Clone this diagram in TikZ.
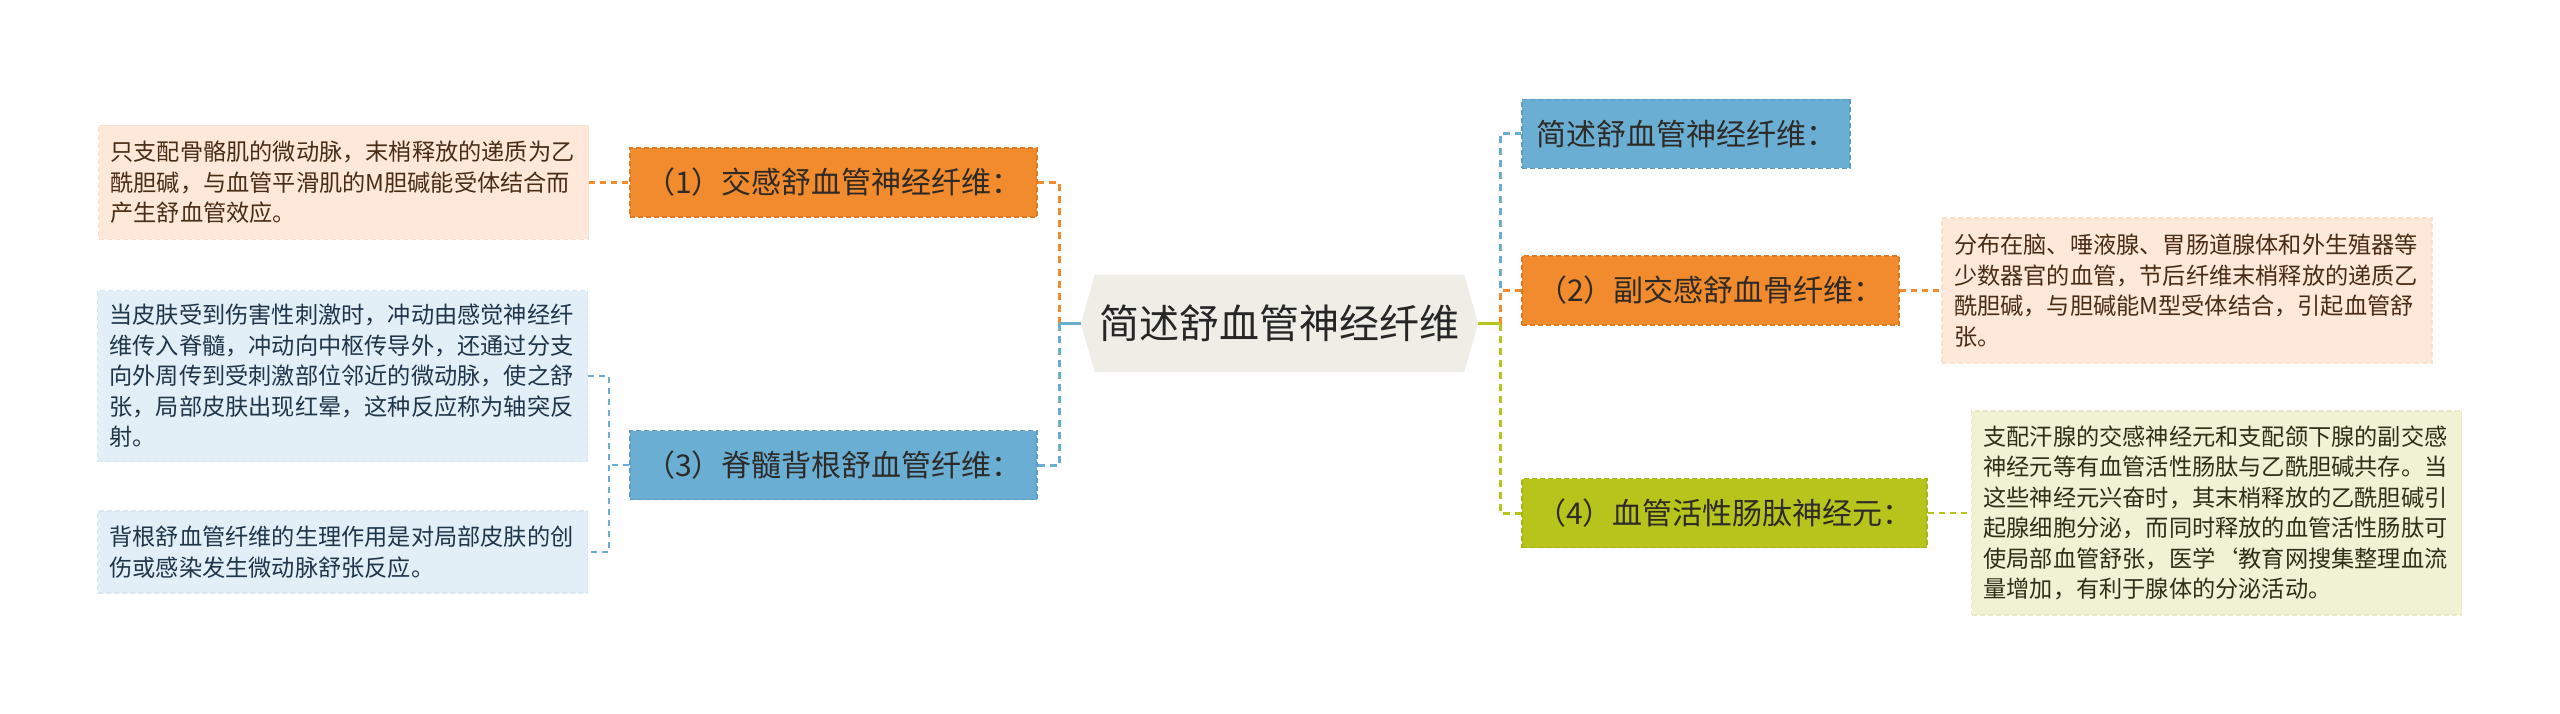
\documentclass[tikz,border=0pt]{standalone}
\usepackage{fontspec}
\setmainfont{Noto Sans CJK SC}
\usetikzlibrary{backgrounds}
\definecolor{org}{HTML}{F18B2D}
\definecolor{orgd}{HTML}{E07A1E}
\definecolor{blu}{HTML}{6AAED4}
\definecolor{blud}{HTML}{5A9CC3}
\definecolor{grn}{HTML}{B7C41C}
\definecolor{grnd}{HTML}{A6B20F}
\definecolor{peach}{HTML}{FDE8D9}
\definecolor{peachd}{HTML}{FADFCB}
\definecolor{lblue}{HTML}{E2EFF7}
\definecolor{lblued}{HTML}{D6E8F2}
\definecolor{lgrn}{HTML}{EFF2D3}
\definecolor{lgrnd}{HTML}{E6EAC4}
\definecolor{cfill}{HTML}{EEEEE6}
\definecolor{btxt}{HTML}{2E2A26}
\definecolor{ptxt}{HTML}{4A2C16}
\definecolor{ltxt}{HTML}{1F3549}
\definecolor{gtxt}{HTML}{2F2F18}
\begin{document}
\begin{tikzpicture}[x=1pt,y=-1pt,
  bbox/.style={inner sep=0pt, minimum height=69pt, line width=1.5pt,
    dash pattern=on 5pt off 3pt, text=btxt, font=\fontsize{30}{36}\selectfont},
  leafbox/.style={inner sep=0pt, align=left, text width=466pt, minimum width=490pt,
    line width=1.5pt, dash pattern=on 5pt off 3pt, font=\fontsize{23.2}{30.5}\selectfont},
  conn/.style={line width=3pt, dash pattern=on 7pt off 5pt},
  lconn/.style={line width=2.2pt, dash pattern=on 6pt off 5pt},
  stub/.style={line width=3pt}]
\useasboundingbox (0,0) rectangle (2560,714);

% centre
\node[inner sep=0pt, minimum width=397pt, minimum height=97pt, text=black!85,
  font=\fontsize{40}{48}\selectfont] (c) at (1279.5,323.5) {简述舒血管神经纤维};
\begin{scope}[on background layer]
\fill[cfill] (c.west) -- ([xshift=14pt]c.north west) -- ([xshift=-14pt]c.north east)
  -- (c.east) -- ([xshift=-14pt]c.south east) -- ([xshift=14pt]c.south west) -- cycle;
\end{scope}

% branches
\node[bbox, fill=org, draw=orgd, minimum width=407pt] (b1) at (833.5,182.5) {（1）交感舒血管神经纤维：};
\node[bbox, fill=blu, draw=blud, minimum width=407pt] (b3) at (833.5,465) {（3）脊髓背根舒血管纤维：};
\node[bbox, fill=blu, draw=blud, minimum width=328pt] (rt) at (1686,134) {简述舒血管神经纤维：};
\node[bbox, fill=org, draw=orgd, minimum width=377pt] (b2) at (1710.5,290.5) {（2）副交感舒血骨纤维：};
\node[bbox, fill=grn, draw=grnd, minimum width=405pt] (b4) at (1724.5,513) {（4）血管活性肠肽神经元：};

% leaves
\node[leafbox, fill=peach, draw=peachd, text=ptxt, minimum height=114pt] (l1) at (343.5,182.5)
  {只支配骨骼肌的微动脉，末梢释放的递质为乙\\酰胆碱，与血管平滑肌的M胆碱能受体结合而\\产生舒血管效应。};
\node[leafbox, fill=lblue, draw=lblued, text=ltxt, minimum height=171pt] (l3a) at (342.5,376)
  {当皮肤受到伤害性刺激时，冲动由感觉神经纤\\维传入脊髓，冲动向中枢传导外，还通过分支\\向外周传到受刺激部位邻近的微动脉，使之舒\\张，局部皮肤出现红晕，这种反应称为轴突反\\射。};
\node[leafbox, fill=lblue, draw=lblued, text=ltxt, minimum height=82pt] (l3b) at (342.5,552)
  {背根舒血管纤维的生理作用是对局部皮肤的创\\伤或感染发生微动脉舒张反应。};
\node[leafbox, fill=peach, draw=peachd, text=ptxt, minimum height=145pt] (l2) at (2187,290.5)
  {分布在脑、唾液腺、胃肠道腺体和外生殖器等\\少数器官的血管，节后纤维末梢释放的递质乙\\酰胆碱，与胆碱能M型受体结合，引起血管舒\\张。};
\node[leafbox, fill=lgrn, draw=lgrnd, text=gtxt, minimum height=204pt] (l4) at (2216.5,513)
  {支配汗腺的交感神经元和支配颌下腺的副交感\\神经元等有血管活性肠肽与乙酰胆碱共存。当\\这些神经元兴奋时，其末梢释放的乙酰胆碱引\\起腺细胞分泌，而同时释放的血管活性肠肽可\\使局部血管舒张，医学\symbol{"60}教育网搜集整理血流\\量增加，有利于腺体的分泌活动。};

% junctions
\coordinate (jl) at (1059,323.5);
\coordinate (jr) at (1500,323.5);
\coordinate (lb) at (609,465);

% left connectors
\draw[conn, org] (jl) -- (jl |- b1.east) -- (b1.east);
\draw[conn, blu] (jl) -- (jl |- b3.east) -- (b3.east);
\draw[stub, blu] (c.west) -- (jl);

% right connectors
\draw[conn, blu] (jr) -- (jr |- rt.west) -- (rt.west);
\draw[conn, org] (jr) -- (jr |- b2.west) -- (b2.west);
\draw[conn, grn] (jr) -- (jr |- b4.west) -- (b4.west);
\draw[stub, grn] (c.east) -- (jr);

% leaf connectors
\draw[lconn, org] (l1.east) -- (b1.west);
\draw[lconn, blu] (b3.west) -- (lb);
\draw[lconn, blu] (l3a.east) -- (l3a.east -| lb) -- (l3b.east -| lb) -- (l3b.east);
\draw[lconn, org] (b2.east) -- (l2.west);
\draw[lconn, grn] (b4.east) -- (l4.west);
\end{tikzpicture}
\end{document}
